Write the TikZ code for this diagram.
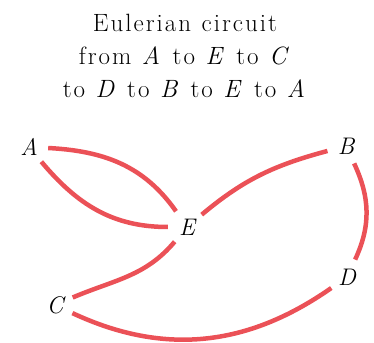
\documentclass[tikz,border=0pt]{standalone}
\usepackage{fontspec}
\newfontfamily\titlefont{Latin Modern Roman}[LetterSpace=8, WordSpace=1.1]
\usepackage{tikz}
\definecolor{edgered}{HTML}{EB5157}

\begin{document}
\begin{tikzpicture}[
    x=1pt, y=1pt,
    vertex/.style={circle, inner sep=0pt, minimum size=38pt,
        font=\fontsize{24}{28}\selectfont\itshape},
    circuit/.style={edgered, line width=4.5pt},
]
\useasboundingbox (0,0) rectangle (374,342);

% Title
\node[align=center, font=\titlefont\fontsize{25}{33}\selectfont]
  (title) at (185,286)
  {Eulerian circuit\\ from \textit{A} to \textit{E} to \textit{C}\\
   to \textit{D} to \textit{B} to \textit{E} to \textit{A}};

% Vertices
\node[vertex] (A) at (29,195) {A};
\node[vertex] (B) at (346,196) {B};
\node[vertex] (C) at (55,37) {C};
\node[vertex] (D) at (347,65) {D};
\node[vertex] (E) at (187,115) {E};

% Edges of the circuit
\draw[circuit] (A) to[out=-3, in=125] (E);
\draw[circuit] (E) to[out=-130, in=23] (C);
\draw[circuit] (C) to[out=-25, in=-145] (D);
\draw[circuit] (D) to[out=65, in=-65] (B);
\draw[circuit] (B) to[out=195, in=40] (E);
\draw[circuit] (E) to[out=180, in=-50] (A);

\end{tikzpicture}
\end{document}
